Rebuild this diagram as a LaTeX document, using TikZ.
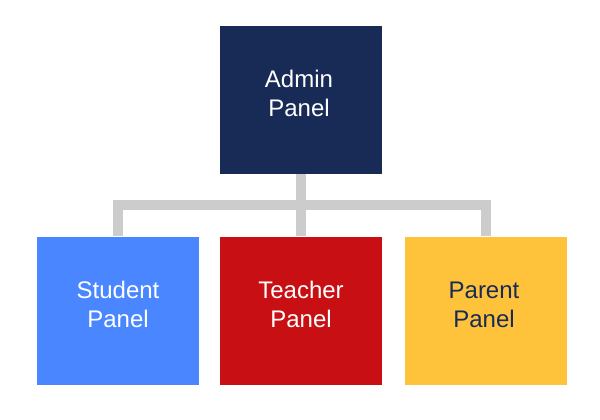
\documentclass[tikz,border=0pt]{standalone}
\usepackage{fontspec}
\setmainfont{Liberation Sans}
\definecolor{adminblue}{HTML}{182B57}
\definecolor{studentblue}{HTML}{4A86FF}
\definecolor{teacherred}{HTML}{C81014}
\definecolor{parentgold}{HTML}{FEC33A}
\definecolor{linkgray}{HTML}{CCCCCC}
\tikzset{
  panel/.style={rectangle, minimum width=121.5pt, minimum height=111pt, inner sep=0pt},
  paneltext/.style={align=center, text=white, inner sep=0pt, font=\fontsize{18}{21.6}\selectfont},
  link/.style={draw=linkgray, line width=7.5pt, line join=miter}
}
\begin{document}
\begin{tikzpicture}[x=0.75pt, y=-0.75pt]
	\useasboundingbox (0,0) rectangle (600,419);
	\node[panel, fill=adminblue] (admin) at (301,99.5) {};
	\node[panel, fill=studentblue] (student) at (118,310.5) {};
	\node[panel, fill=teacherred] (teacher) at (301,310.5) {};
	\node[panel, fill=parentgold] (parent) at (486,310.5) {};
	\node[paneltext] (admintext) at ([xshift=-1.5pt, yshift=4.5pt]admin.center) {Admin\\Panel};
	\node[paneltext] (studenttext) at ([yshift=4.5pt]student.center) {Student\\Panel};
	\node[paneltext] (teachertext) at ([yshift=4.5pt]teacher.center) {Teacher\\Panel};
	\node[paneltext, text=adminblue] (parenttext) at ([xshift=-1.5pt, yshift=4.5pt]parent.center) {Parent\\Panel};
	\coordinate (bus) at (301,205);
	\draw[link] (student.north) -- (student.north |- bus) -- (parent.north |- bus) -- (parent.north);
	\draw[link] (admin.south) -- (teacher.north);
\end{tikzpicture}
\end{document}
